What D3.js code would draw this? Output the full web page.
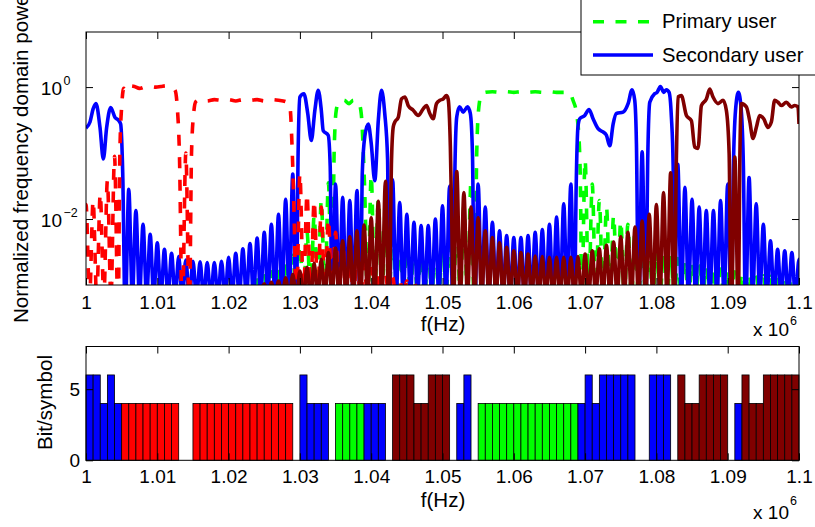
<!DOCTYPE html>
<html><head><meta charset="utf-8">
<script src="https://cdn.jsdelivr.net/npm/d3@7/dist/d3.min.js"></script>
<style>
body{margin:0;background:#fff}
svg text{font-family:"Liberation Sans",Arial,sans-serif;fill:#000}
</style></head>
<body><svg id="c" width="815" height="527"></svg>
<script>
// ---------- DATA ----------
// x axis ticks (frequency in units of 1e6 Hz)
const xTickVals = [1,1.01,1.02,1.03,1.04,1.05,1.06,1.07,1.08,1.09,1.1];
const xTickText = ["1","1.01","1.02","1.03","1.04","1.05","1.06","1.07","1.08","1.09","1.1"];
const yTopTicks = [0.01, 1];
const yTopTickExp = ["\u22122", "0"];
const yBotTicks = [0, 5];

// Spectrum curves: subcarrier index n (f = 1e6 + n kHz), log10 of normalized power.
// In-band (main lobe) points
const blueBand = [
 [0,-0.62],[0.56,-0.53],[1.0,-0.33],[1.4,-0.25],[1.96,-0.61],[2.43,-1.09],[2.9,-0.61],[3.46,-0.31],[4.07,-0.46],[4.53,-0.5],[4.86,-0.56],[5.15,-1.3],[5.5,-3.5],
 [29.5,-3.5],[29.75,-1.0],[30.0,-0.15],[30.56,-0.1],[31.1,-0.4],[31.6,-0.81],[32.1,-0.35],[32.57,-0.05],[33.0,-0.35],[33.27,-0.66],[33.97,-0.73],[34.25,-1.2],[34.5,-3.5],
 [38.5,-3.5],[38.75,-1.3],[39.1,-0.75],[39.58,-0.56],[40.0,-0.85],[40.5,-1.42],[41.0,-0.5],[41.45,-0.05],[41.9,-0.4],[42.3,-1.1],[42.5,-3.5],
 [51.5,-3.5],[51.75,-1.2],[52.0,-0.45],[52.4,-0.3],[52.9,-0.38],[53.5,-0.3],[53.9,-0.4],[54.2,-1.0],[54.5,-3.5],
 [68.5,-3.5],[68.75,-1.5],[69.0,-0.6],[69.25,-0.48],[69.95,-0.43],[70.56,-0.34],[71.12,-0.48],[71.82,-0.63],[72.52,-0.68],[72.99,-0.73],[73.46,-0.89],[73.93,-0.56],[74.39,-0.4],[75.33,-0.38],[76.03,-0.25],[76.59,-0.04],[76.96,-0.2],[77.2,-0.86],[77.5,-3.5],
 [78.5,-3.5],[78.8,-1.0],[79.07,-0.23],[79.77,-0.1],[80.1,-0.08],[80.56,0.01],[81.03,-0.08],[81.4,-0.04],[81.78,-0.08],[82.1,-0.45],[82.35,-1.2],[82.5,-3.5],
 [90.5,-3.5],[90.8,-1.2],[91.1,-0.35],[91.5,-0.08],[91.9,-0.35],[92.2,-1.2],[92.5,-3.5]
];
// Side-lobe peaks (one lobe per subcarrier spacing)
const blueLobes = [
 [6,-1.55],[7,-1.87],[8,-2.08],[9,-2.23],[10,-2.36],[11,-2.46],[12,-2.52],[13,-2.57],[14,-2.62],[15,-2.64],[16,-2.65],[17,-2.66],[18,-2.66],[19,-2.64],[20,-2.58],[21,-2.52],[22,-2.45],[23,-2.37],[24,-2.29],[25,-2.2],[26,-2.08],[27,-1.93],[28,-1.7],[29,-1.32],
 [35,-1.47],[36,-1.67],[37,-1.72],[38,-1.57],
 [43,-1.4],[44,-1.75],[45,-1.93],[46,-2.05],[47,-2.1],[48,-2.1],[49,-2.0],[50,-1.8],[51,-1.5],
 [55,-1.47],[56,-1.82],[57,-2.05],[58,-2.18],[59,-2.25],[60,-2.28],[61,-2.28],[62,-2.25],[63,-2.2],[64,-2.16],[65,-2.08],[66,-1.97],[67,-1.77],[68,-1.47],
 [78,-0.98],
 [83,-1.17],[84,-1.52],[85,-1.7],[86,-1.82],[87,-1.87],[88,-1.87],[89,-1.72],[90,-1.47],
 [93,-1.37],[94,-1.77],[95,-2.08],[96,-2.33],[97,-2.46],[98,-2.48],[99,-2.51],[100,-2.61]
];
const redBand = [
 [4.5,-3.5],[4.75,-1.0],[5.0,-0.3],[5.3,-0.02],[5.7,-0.06],[6.2,0.02],[6.8,0.01],[7.5,-0.02],[8.2,0.0],[9.0,0.01],[9.8,0.0],[10.5,0.01],[11.3,0.02],[12.0,0.0],[12.5,-0.05],[12.8,-0.3],[13.1,-1.0],[13.5,-3.5],
 [14.5,-3.5],[14.8,-1.0],[15.1,-0.4],[15.4,-0.22],[16,-0.19],[17,-0.21],[18,-0.19],[19,-0.2],[20,-0.19],[21,-0.21],[22,-0.19],[23,-0.2],[24,-0.19],[25,-0.21],[26,-0.19],[27,-0.2],[28,-0.22],[28.6,-0.3],[28.9,-0.9],[29.2,-2.0],[29.5,-3.5]
];
const redLobes = [
 [0,-1.78],[1,-1.72],[2,-1.62],[3,-1.42],[4,-1.05],[14,-1.0],
 [30,-1.32],[31,-1.62],[32,-1.72],[33,-1.82],[34,-2.0],[35,-2.2],[36,-2.35],[37,-2.5],[38,-2.6],[39,-2.68],[40,-2.75],[41,-2.8],[42,-2.84],[43,-2.88],[44,-2.91],[45,-2.94],[46,-2.97]
];
const greenBand = [
 [34.5,-3.5],[34.8,-1.0],[35.1,-0.35],[35.5,-0.22],[36.2,-0.2],[36.9,-0.25],[37.5,-0.2],[38.2,-0.22],[38.6,-0.4],[38.9,-1.0],[39.2,-2.0],[39.5,-3.5],
 [54.5,-3.5],[54.8,-1.0],[55.1,-0.3],[55.5,-0.1],[56,-0.08],[57,-0.07],[58,-0.08],[59,-0.07],[60,-0.08],[61,-0.07],[62,-0.08],[63,-0.07],[64,-0.08],[65,-0.07],[66,-0.08],[67,-0.08],[67.8,-0.08],[68.3,-0.2],[68.8,-0.4],[69.2,-0.9],[69.4,-2.0],[69.5,-3.5]
];
const greenLobes = [
 [23,-2.97],[24,-2.92],[25,-2.86],[26,-2.8],[27,-2.73],[28,-2.65],[29,-2.55],[30,-2.4],[31,-2.2],[32,-1.95],[33,-1.72],[34,-1.45],
 [40,-1.34],[41,-1.7],[42,-1.95],[43,-2.1],[44,-2.2],[45,-2.3],[46,-2.35],[47,-2.4],[48,-2.4],[49,-2.35],[50,-2.3],[51,-2.2],[52,-2.05],[53,-1.8],[54,-1.42],
 [70,-1.11],[71,-1.47],[72,-1.72],[73,-1.82],[74,-1.95],[75,-2.03],[76,-2.08],[77,-2.18],[78,-2.33],[79,-2.43],[80,-2.48],[81,-2.52],[82,-2.56],[83,-2.6],[84,-2.63],[85,-2.66],[86,-2.69],[87,-2.72],[88,-2.74],[89,-2.76],[90,-2.78],[91,-2.8],[92,-2.82],[93,-2.84],[94,-2.85],[95,-2.86],[96,-2.87],[97,-2.88],[98,-2.89],[99,-2.9],[100,-2.9]
];
const darkBand = [
 [42.5,-3.5],[42.85,-1.11],[43.1,-0.6],[43.32,-0.53],[43.79,-0.46],[44.25,-0.18],[44.72,-0.15],[45.19,-0.28],[45.89,-0.35],[46.59,-0.43],[47.29,-0.33],[47.76,-0.28],[48.22,-0.4],[48.69,-0.48],[49.16,-0.25],[49.63,-0.2],[50.09,-0.18],[50.56,-0.13],[50.79,-0.18],[51.1,-0.9],[51.3,-2.0],[51.5,-3.5],
 [82.5,-3.5],[82.8,-1.1],[83.04,-0.15],[83.5,-0.13],[84.21,-0.43],[84.91,-0.51],[85.37,-0.91],[85.84,-0.93],[86.31,-0.28],[87.01,-0.18],[87.48,-0.03],[87.94,-0.15],[88.64,-0.25],[89.35,-0.2],[89.81,-0.35],[90.2,-1.0],[90.5,-3.5],
 [91.5,-3.5],[91.7,-1.1],[91.92,-0.25],[92.62,-0.3],[93.08,-0.51],[93.55,-0.78],[94.02,-0.61],[94.49,-0.43],[95.05,-0.48],[95.65,-0.61],[96.12,-0.53],[96.59,-0.2],[97.06,-0.23],[97.52,-0.28],[98.22,-0.23],[98.93,-0.3],[99.39,-0.28],[99.86,-0.3],[100,-0.56]
];
const darkLobes = [
 [25,-2.98],[26,-2.96],[27,-2.94],[28,-2.89],[29,-2.84],[30,-2.79],[31,-2.73],[32,-2.67],[33,-2.61],[34,-2.51],[35,-2.44],[36,-2.33],[37,-2.27],[38,-2.18],[39,-2.09],[40,-1.98],[41,-1.73],[42,-1.43],
 [52,-1.28],[53,-1.6],[54,-1.82],[55,-1.98],[56,-2.18],[57,-2.28],[58,-2.36],[59,-2.43],[60,-2.48],[61,-2.51],[62,-2.53],[63,-2.56],[64,-2.57],[65,-2.58],[66,-2.58],[67,-2.58],[68,-2.58],[69,-2.57],[70,-2.53],[71,-2.48],[72,-2.45],[73,-2.4],[74,-2.35],[75,-2.27],[76,-2.2],[77,-2.12],[78,-2.03],[79,-1.93],[80,-1.78],[81,-1.6],[82,-1.3],
 [91,-1.06]
];
const LOBE_ZERO = -3.2; // spectral nulls between side lobes (below the axis)

// Bit loading per subcarrier (bottom panel)
const barBits = [6,6,4,6,4, 4,4,4,4,4,4,4,4, 0,0, 4,4,4,4,4,4,4,4,4,4,4,4,4,4, 0,
 6,4,4,4, 0, 4,4,4,4, 4,4,4, 0, 6,6,6,4,4,6,6,6, 0, 4,6, 0,
 4,4,4,4,4,4,4,4,4,4,4,4,4,4, 4,6,4,6,6,6,6,6, 0,0, 6,6,6, 0, 6,4,4,6,6,6,6, 0, 4, 6,4,4,6,6,6,6,6];
const barUser = ["B","B","B","B","B","R","R","R","R","R","R","R","R","-","-",
 "R","R","R","R","R","R","R","R","R","R","R","R","R","R","-",
 "B","B","B","B","-","G","G","G","G","B","B","B","-","D","D","D","D","D","D","D","D","-","B","B","-",
 "G","G","G","G","G","G","G","G","G","G","G","G","G","G","B","B","B","B","B","B","B","B","-","-",
 "B","B","B","-","D","D","D","D","D","D","D","-","B","D","D","D","D","D","D","D","D"];
const userColor = {B:"#0000ff", R:"#ff0000", G:"#00ff00", D:"#800000"};

const legendLabels = ["Primary user", "Secondary user"];

// ---------- LAYOUT ----------
const svg = d3.select("#c");
const FS = 19, LFS = 20.6;
const x = d3.scaleLinear().domain([1, 1.1]).range([86, 799]);
const yT = d3.scaleLog().domain([1e-3, Math.pow(10, 0.835)]).range([285, 32]);
const yB = d3.scaleLinear().domain([0, 8]).range([460.3, 346.5]);
const fOf = n => 1 + n / 1000;

svg.append("rect").attr("width",815).attr("height",527).attr("fill","#fff");

// ---------- TOP PANEL ----------
svg.append("defs").append("clipPath").attr("id","clipT")
  .append("rect").attr("x",x(1)).attr("y",yT.range()[1]).attr("width",x(1.1)-x(1)).attr("height",yT.range()[0]-yT.range()[1]);
svg.append("rect").attr("x",x(1)).attr("y",32).attr("width",x(1.1)-x(1)).attr("height",253).attr("fill","#fff");

function buildPoints(band, lobes){
  const m = new Map();
  lobes.forEach(([n,v]) => {
    [[n-0.5,LOBE_ZERO],[n,v],[n+0.5,LOBE_ZERO]].forEach(p => {
      const k = p[0].toFixed(3);
      if (!m.has(k)) m.set(k, p);
    });
  });
  band.forEach(p => m.set(p[0].toFixed(3), p));
  return Array.from(m.values()).sort((a,b) => a[0]-b[0]);
}
const line = d3.line()
  .x(d => x(fOf(d[0])))
  .y(d => yT(Math.pow(10, d[1])))
  .curve(d3.curveMonotoneX);

const series = [
  {band: greenBand, lobes: greenLobes, color:"#00ff00", dash:"11,11.5"},
  {band: blueBand,  lobes: blueLobes,  color:"#0000ff", dash:null},
  {band: redBand,   lobes: redLobes,   color:"#ff0000", dash:"11,11.5"},
  {band: darkBand,  lobes: darkLobes,  color:"#800000", dash:null}
];
const gCurves = svg.append("g").attr("clip-path","url(#clipT)");
series.forEach(s => {
  gCurves.append("path")
    .attr("d", line(buildPoints(s.band, s.lobes)))
    .attr("fill","none").attr("stroke", s.color).attr("stroke-width",3.6)
    .attr("stroke-linejoin","round")
    .attr("stroke-dasharray", s.dash);
});

// box + ticks (top panel)
svg.append("rect").attr("x",x(1)).attr("y",32).attr("width",x(1.1)-x(1)).attr("height",253)
  .attr("fill","none").attr("stroke","#000").attr("stroke-width",1);

function styleAxis(g){
  g.select(".domain").remove();
  g.selectAll("line").attr("stroke","#000");
  g.selectAll("text").attr("font-size",FS).attr("font-family","Liberation Sans, Arial, sans-serif").attr("fill","#000");
}
svg.append("g").attr("transform","translate(0,285)")
  .call(d3.axisBottom(x).tickValues(xTickVals).tickFormat((d,i)=>xTickText[i]).tickSize(-7).tickPadding(11))
  .call(styleAxis);
svg.append("g").attr("transform","translate(0,32)")
  .call(d3.axisTop(x).tickValues(xTickVals).tickFormat("").tickSize(-7)).call(styleAxis);
svg.append("g").attr("transform",`translate(${x(1)},0)`)
  .call(d3.axisLeft(yT).tickValues(yTopTicks).tickFormat("").tickSize(-7)).call(styleAxis);
svg.append("g").attr("transform",`translate(${x(1.1)},0)`)
  .call(d3.axisRight(yT).tickValues(yTopTicks).tickFormat("").tickSize(-7)).call(styleAxis);

// log tick labels 10^k
yTopTicks.forEach((t,i) => {
  const yy = yT(t);
  svg.append("text").attr("x",62).attr("y",yy+7.5).attr("text-anchor","end").attr("font-size",FS).text("10");
  svg.append("text").attr("x",63.5).attr("y",yy-2.5).attr("font-size",12.5).text(yTopTickExp[i]);
});

svg.append("text").attr("x",443).attr("y",331).attr("text-anchor","middle").attr("font-size",LFS).text("f(Hz)");
svg.append("text").attr("x",789).attr("y",336).attr("text-anchor","end").attr("font-size",FS).text("x 10");
svg.append("text").attr("x",790).attr("y",325).attr("font-size",12.5).text("6");
svg.append("text").attr("transform","translate(28,323) rotate(-90)").attr("text-anchor","start")
  .attr("font-size",LFS).text("Normalized frequency domain power");

// ---------- BOTTOM PANEL ----------
const bw = 0.001;
const bars = barBits.map((b,i) => ({f: fOf(i), bits: b, user: barUser[i]})).filter(d => d.bits > 0);
svg.append("g").selectAll("rect").data(bars).join("rect")
  .attr("x", d => x(d.f)).attr("width", d => x(d.f + bw) - x(d.f))
  .attr("y", d => yB(d.bits)).attr("height", d => yB(0) - yB(d.bits))
  .attr("fill", d => userColor[d.user]).attr("stroke","#000").attr("stroke-width",0.8);

svg.append("rect").attr("x",x(1)).attr("y",yB(8)).attr("width",x(1.1)-x(1)).attr("height",yB(0)-yB(8))
  .attr("fill","none").attr("stroke","#000").attr("stroke-width",1);
svg.append("g").attr("transform",`translate(0,${yB(0)})`)
  .call(d3.axisBottom(x).tickValues(xTickVals).tickFormat((d,i)=>xTickText[i]).tickSize(-7).tickPadding(9.5))
  .call(styleAxis);
svg.append("g").attr("transform",`translate(0,${yB(8)})`)
  .call(d3.axisTop(x).tickValues(xTickVals).tickFormat("").tickSize(-7)).call(styleAxis);
svg.append("g").attr("transform",`translate(${x(1)},0)`)
  .call(d3.axisLeft(yB).tickValues(yBotTicks).tickFormat(d3.format("d")).tickSize(-7).tickPadding(6)).call(styleAxis);
svg.append("g").attr("transform",`translate(${x(1.1)},0)`)
  .call(d3.axisRight(yB).tickValues(yBotTicks).tickFormat("").tickSize(-7)).call(styleAxis);

svg.append("text").attr("x",443).attr("y",507).attr("text-anchor","middle").attr("font-size",LFS).text("f(Hz)");
svg.append("text").attr("x",789).attr("y",519).attr("text-anchor","end").attr("font-size",FS).text("x 10");
svg.append("text").attr("x",790).attr("y",505).attr("font-size",12.5).text("6");
svg.append("text").attr("transform","translate(52,402.5) rotate(-90)").attr("text-anchor","middle")
  .attr("font-size",LFS).text("Bit/symbol");

// ---------- LEGEND ----------
const lg = svg.append("g");
lg.append("rect").attr("x",581).attr("y",-20).attr("width",260).attr("height",95)
  .attr("fill","#fff").attr("stroke","#000").attr("stroke-width",1);
[{c:"#00ff00", dash:"11,11.5", y:21.7}, {c:"#0000ff", dash:null, y:55}].forEach((e,i) => {
  lg.append("line").attr("x1",593).attr("x2",653).attr("y1",e.y).attr("y2",e.y)
    .attr("stroke",e.c).attr("stroke-width",3.6).attr("stroke-dasharray",e.dash);
  lg.append("text").attr("x",662).attr("y",e.y+6.5).attr("font-size",20.2).text(legendLabels[i]);
});
</script>
</body></html>
